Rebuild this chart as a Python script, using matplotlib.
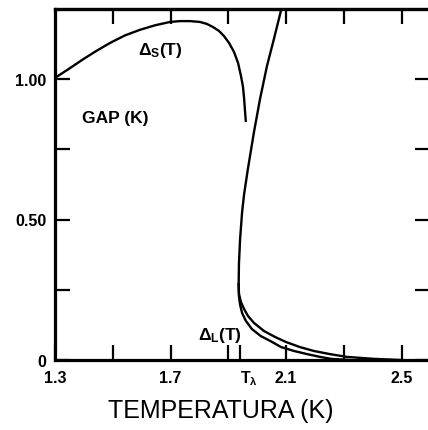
import matplotlib
matplotlib.use("Agg")
import matplotlib.pyplot as plt
from matplotlib import font_manager as fm
from matplotlib.transforms import blended_transform_factory

# ---- data ----
ds_T = [1.300, 1.348, 1.397, 1.445, 1.490, 1.542, 1.594, 1.646, 1.698, 1.733,
        1.768, 1.802, 1.826, 1.847, 1.868, 1.885, 1.903, 1.920, 1.934, 1.944,
        1.951, 1.955, 1.958, 1.961]
ds_gap = [1.004, 1.036, 1.070, 1.101, 1.128, 1.155, 1.175, 1.191, 1.203, 1.206,
          1.206, 1.203, 1.196, 1.185, 1.171, 1.153, 1.128, 1.096, 1.057, 1.011,
          0.972, 0.929, 0.886, 0.847]

dl1_T = [2.089, 2.058, 2.034, 2.010, 1.989, 1.968, 1.955, 1.948, 1.941, 1.937,
         1.936, 1.937, 1.944, 1.955, 1.968, 1.989, 2.024, 2.062, 2.100, 2.148,
         2.197, 2.252, 2.311, 2.405, 2.498]
dl1_gap = [1.270, 1.142, 1.046, 0.929, 0.811, 0.680, 0.591, 0.527, 0.431, 0.342,
           0.270, 0.235, 0.206, 0.181, 0.157, 0.132, 0.103, 0.082, 0.064, 0.046,
           0.032, 0.021, 0.011, 0.004, 0.0]

dl2_T = [1.936, 1.937, 1.941, 1.948, 1.961, 1.982, 2.013, 2.045, 2.083, 2.128,
         2.173, 2.218, 2.256, 2.322]
dl2_gap = [0.270, 0.228, 0.196, 0.167, 0.139, 0.110, 0.085, 0.068, 0.046, 0.032,
           0.021, 0.011, 0.004, 0.0]

x_major = [1.3, 1.7, 2.1, 2.5]
x_major_labels = ["1.3", "1.7", "2.1", "2.5"]
x_minor = [1.5, 1.9, 2.3, 1.94]
x_top = [1.5, 1.7, 1.9, 2.1, 2.3, 2.5]
t_lambda = 1.94
y_major = [0.0, 0.5, 1.0]
y_major_labels = ["0", "0.50", "1.00"]
y_minor = [0.25, 0.75]

# ---- fonts ----
names = {f.name for f in fm.fontManager.ttflist}
if "Liberation Sans Narrow" in names:
    fam = "Liberation Sans Narrow"
    s_tick, s_ann, s_title = 13, 14, 22
else:
    fam = "Liberation Sans"
    s_tick, s_ann, s_title = 11.5, 12.5, 18
plt.rcParams["font.family"] = [fam, "DejaVu Sans"]
plt.rcParams["mathtext.fontset"] = "custom"
plt.rcParams["mathtext.rm"] = fam + ":bold"
plt.rcParams["mathtext.it"] = fam + ":bold"
plt.rcParams["mathtext.bf"] = fam + ":bold"

fig = plt.figure(figsize=(4.28, 4.31), dpi=100)
W, H = 428, 431
ax = fig.add_axes([55 / W, (H - 361) / H, (430.4 - 55) / W, (361 - 10) / H])
ax.set_xlim(1.3, 2.6)
ax.set_ylim(0, 351 / 281)

lw = 1.7
ax.plot(ds_T, ds_gap, color="black", lw=lw, solid_capstyle="butt",
        solid_joinstyle="round")
ax.plot(dl1_T, dl1_gap, color="black", lw=lw, solid_joinstyle="round")
ax.plot(dl2_T, dl2_gap, color="black", lw=lw, solid_joinstyle="round")

for s in ["left", "bottom", "top"]:
    ax.spines[s].set_linewidth(2.3)
ax.spines["right"].set_visible(False)

ax.set_xticks(x_major, x_major_labels)
ax.set_xticks(x_minor, minor=True)
ax.set_yticks(y_major, y_major_labels)
ax.set_yticks(y_minor, minor=True)
ax.tick_params(which="both", direction="in", length=11, width=1.6,
               left=True, right=True, bottom=True, top=False)
ax.tick_params(axis="x", which="both", pad=7, labelsize=s_tick)
ax.tick_params(axis="y", which="both", pad=6, labelsize=s_tick)
for lab in ax.get_xticklabels() + ax.get_yticklabels():
    lab.set_fontweight("bold")

axt = ax.secondary_xaxis("top")
axt.set_xticks(x_top)
axt.tick_params(direction="in", length=11, width=1.6, labeltop=False)
axt.spines["top"].set_linewidth(2.3)

tr = blended_transform_factory(ax.transData, ax.transAxes)
ax.text(t_lambda, -0.025, r"T$_\mathregular{\lambda}$", transform=tr,
        ha="left", va="top", fontsize=s_tick, fontweight="bold")

ax.text(1.587, 1.089, r"Δ$_\mathregular{S}$(T)", fontsize=s_ann,
        fontweight="bold", ha="left", va="baseline")
ax.text(1.394, 0.847, "GAP (K)", fontsize=s_ann, fontweight="bold",
        ha="left", va="baseline")
ax.text(1.795, 0.075, r"Δ$_\mathregular{L}$(T)", fontsize=s_ann,
        fontweight="bold", ha="left", va="baseline")

fig.text(221 / W, 1 - 411 / H, "TEMPERATURA (K)", fontsize=s_title,
         ha="center", va="center")

fig.savefig("out.png", dpi=100)
